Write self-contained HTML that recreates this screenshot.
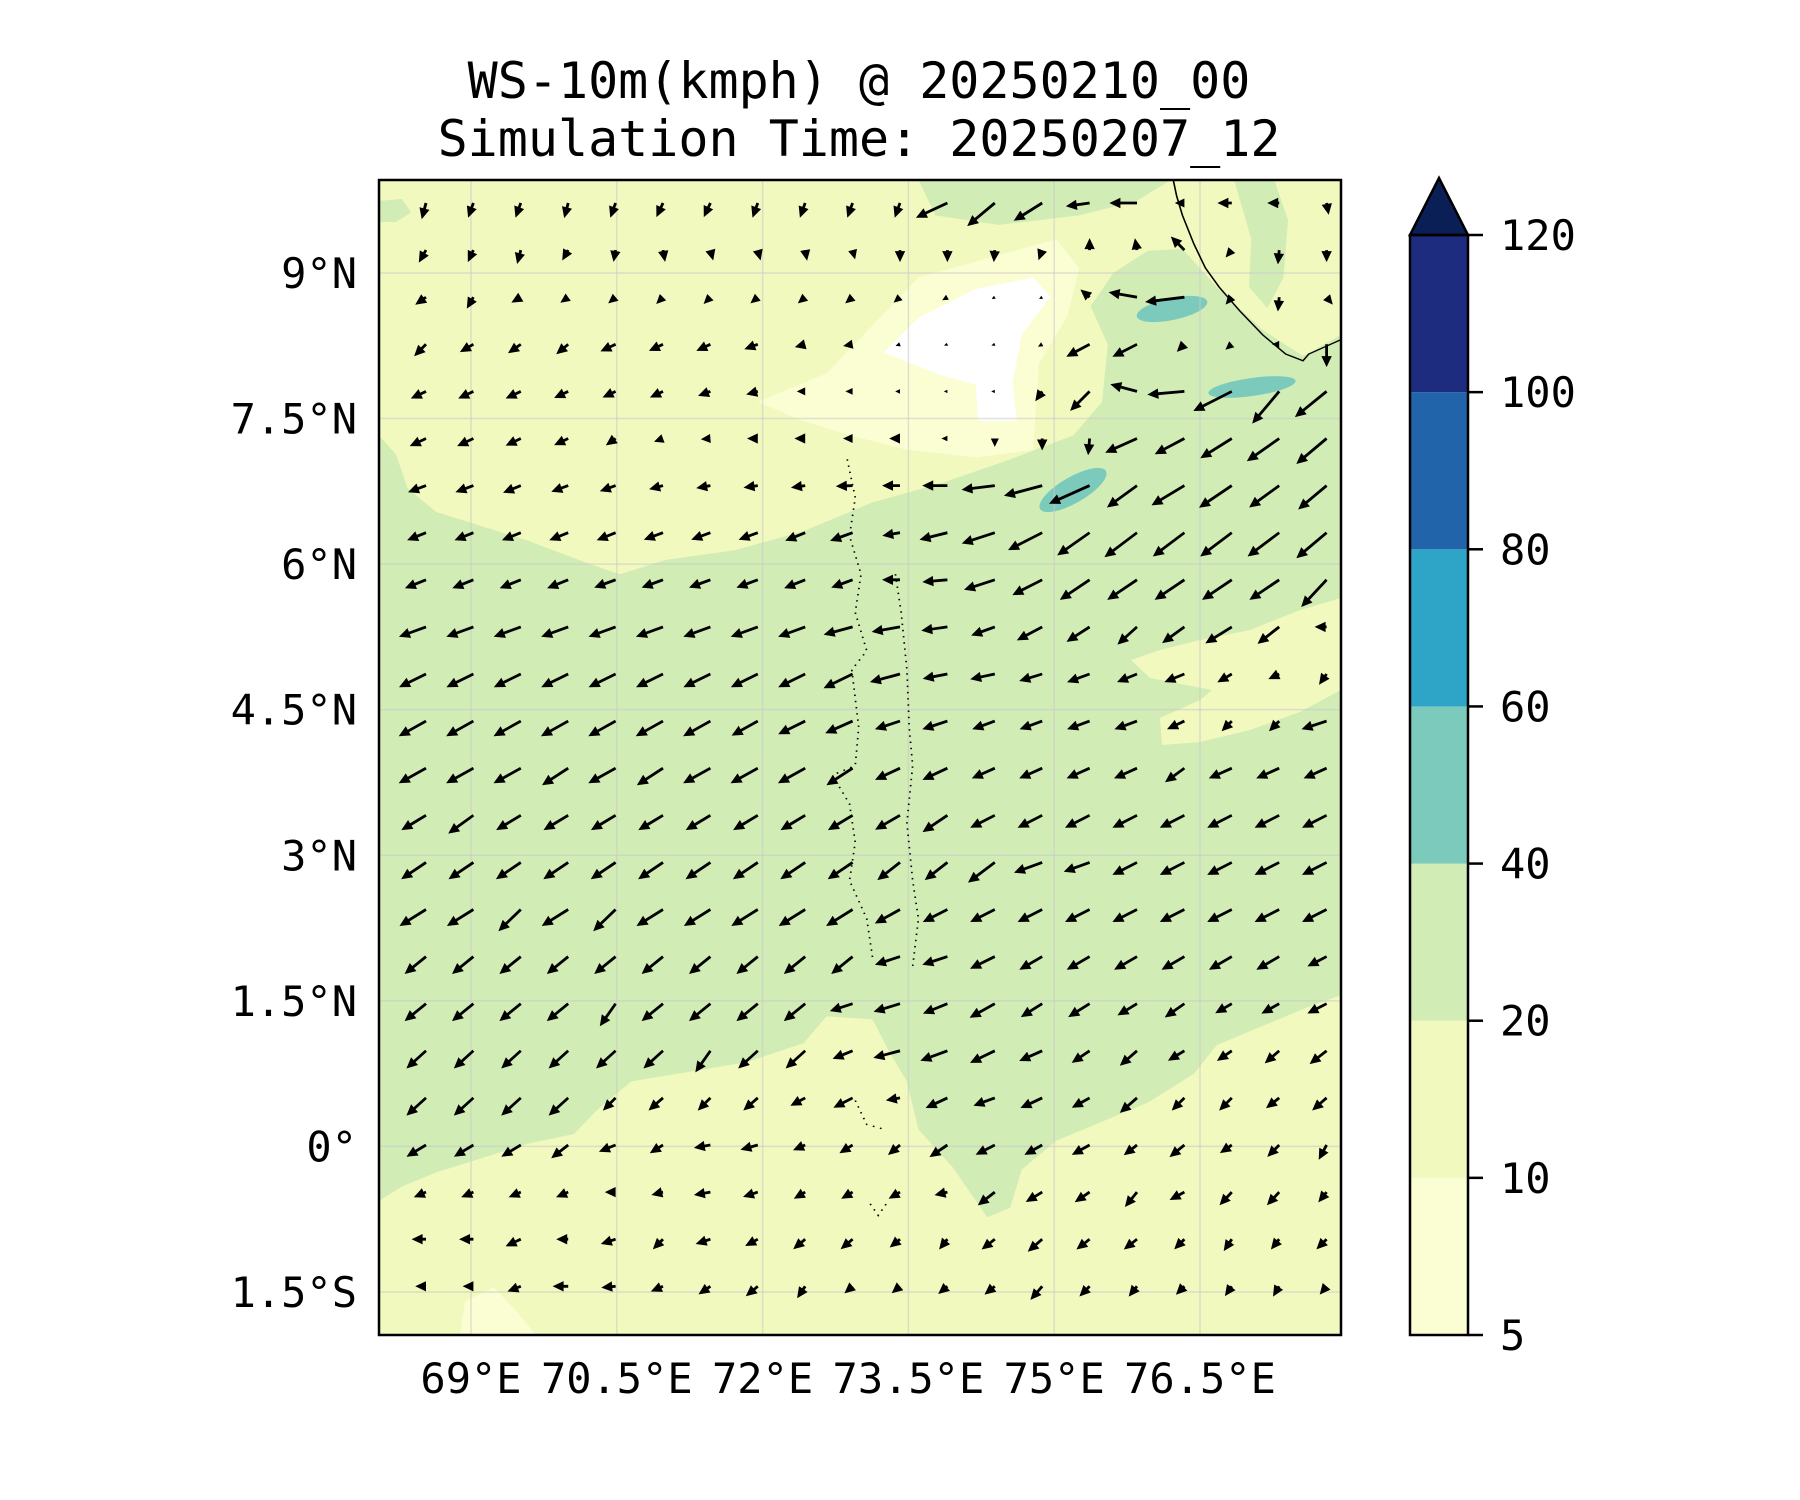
<!DOCTYPE html>
<html><head><meta charset="utf-8">
<style>
html,body{margin:0;padding:0;background:#fff;}
svg{display:block;}
text{font-family:"DejaVu Sans Mono","Liberation Mono",monospace;fill:#000;}
</style></head>
<body>
<svg id="chart" width="1800" height="1500" viewBox="0 0 1800 1500" xmlns="http://www.w3.org/2000/svg">
  <text x="859" y="98" font-size="50" text-anchor="middle">WS-10m(kmph) @ 20250210_00</text>
  <text x="859" y="156" font-size="50" text-anchor="middle">Simulation Time: 20250207_12</text>
  <defs><clipPath id="plotclip"><rect x="379" y="180" width="962" height="1155"/></clipPath></defs>
  <g clip-path="url(#plotclip)">
    <rect x="379" y="180" width="962" height="1155" fill="#d1ecb5"/>
    <g transform="scale(1.148,0.957)">
      <path fill="#f1f9be" d="M330,188 L800,188 L815,225 L870,235 L940,225 L990,210 L1020,188 L1168,188 L1168,350 L1135,372 L1100,345 L1060,300 L1030,260 L1000,262 L970,285 L950,320 L965,360 L960,420 L935,455 L880,480 L820,505 L760,525 L700,555 L640,575 L580,585 L540,600 L515,590 L460,565 L420,550 L380,535 L355,510 L345,475 L330,455 Z"/>
      <path fill="#d1ecb5" d="M1075,188 L1110,188 L1122,230 L1118,290 L1104,322 L1088,300 L1090,250 Z"/>
      <path fill="#d1ecb5" d="M330,210 L350,208 L358,222 L345,232 L330,232 Z"/>
      <path fill="#fbfdd3" d="M660,420 L720,390 L760,340 L800,290 L860,270 L920,250 L940,280 L930,330 L905,380 L900,470 L850,478 L790,470 L740,455 L700,440 Z"/>
      <path fill="#ffffff" d="M770,368 L800,332 L850,302 L900,290 L915,310 L890,350 L882,400 L886,440 L852,440 L850,402 L820,392 L790,378 Z"/>
      <path fill="#f1f9be" d="M330,1255 L350,1240 L380,1225 L420,1210 L460,1195 L500,1185 L520,1160 L550,1130 L600,1120 L650,1110 L700,1090 L720,1062 L760,1065 L775,1100 L790,1130 L800,1180 L830,1220 L860,1272 L880,1262 L890,1222 L920,1192 L960,1172 L1000,1152 L1040,1122 L1060,1092 L1100,1072 L1140,1052 L1168,1040 L1168,1400 L330,1400 Z"/>
      <path fill="#fbfdd3" d="M400,1400 L405,1360 L430,1345 L450,1370 L470,1400 Z"/>
    </g>
    <path fill="#f1f9be" d="M1131,660 L1160,650 L1200,640 L1250,630 L1300,610 L1341,598 L1341,690 L1300,712 L1250,730 L1200,742 L1162,745 L1160,718 L1200,700 L1212,690 L1150,678 Z"/>
    <ellipse cx="1172" cy="309" rx="36" ry="11" transform="rotate(-12 1172 309)" fill="#7ccabc"/>
    <ellipse cx="1252" cy="387" rx="44" ry="9" transform="rotate(-8 1252 387)" fill="#7ccabc"/>
    <ellipse cx="1073" cy="490" rx="38" ry="13" transform="rotate(-30 1073 490)" fill="#7ccabc"/>
    <g id="grid"></g>
    <g transform="scale(1.148,0.957)">
      <path fill="none" stroke="#000" stroke-width="1.4" d="M1022,188 L1025,205 L1030,225 L1040,255 L1050,280 L1062,300 L1080,325 L1100,350 L1120,370 L1135,377 L1140,370 L1168,355"/>
      <path fill="none" stroke="#000" stroke-width="1.5" stroke-dasharray="1.5 5" d="M738,480 L745,520 L740,560 L750,600 L745,640 L755,680 L742,700 L748,760 L745,800 L725,810 L740,840 L745,880 L740,920 L755,960 L760,1000 M780,600 L785,640 L790,700 L792,760 L795,800 L790,860 L795,920 L800,960 L795,1010 M745,1150 L755,1175 L770,1180 M758,1258 L765,1270 L772,1258"/>
    </g>
    <g id="arrows"></g>
  </g>
  <rect x="379" y="180" width="962" height="1155" fill="none" stroke="#000" stroke-width="2.5"/>
  <g id="yaxis"></g>
  <g id="xaxis"></g>
  <g id="colorbar"></g>
</svg>
<script>
// ---- data ----
const latTicks = [9, 7.5, 6, 4.5, 3, 1.5, 0, -1.5];
const latLabels = ["9°N","7.5°N","6°N","4.5°N","3°N","1.5°N","0°","1.5°S"];
const lonTicks = [69, 70.5, 72, 73.5, 75, 76.5];
const lonLabels = ["69°E","70.5°E","72°E","73.5°E","75°E","76.5°E"];
const cbLevels = [5, 10, 20, 40, 60, 80, 100, 120];
const cbColors = ["#fbfdd3","#f1f9be","#d1ecb5","#7ccabc","#2ea4c6","#2264a9","#1d2c7e"];
const cbExtendColor = "#0b1f57";
// wind direction (compass degrees the arrow points to), per row top->bottom
const dir0 = [195,200,200,195,200,205,205,200,200,200,200,245,230,238,262,270,270,270,270,170];
const dir1 = [210,205,195,210,190,170,165,165,170,165,180,180,185,200,0,350,315,220,185,180];
const dir2 = [235,210,240,235,230,225,225,230,230,230,230,240,240,240,310,280,263,220,185,140];
const dir3 = [225,240,235,230,245,245,245,250,255,260,250,250,250,240,242,243,225,230,270,180];
const dir4 = [245,245,245,245,245,245,250,255,270,270,270,270,270,215,225,285,265,243,220,231];
const dir5 = [245,245,245,245,235,250,265,270,270,270,270,270,180,180,185,246,242,238,235,230];
const dir6 = [250,250,248,250,250,255,260,262,262,268,270,270,263,255,246,234,239,236,234,230];
const dir7 = [248,248,248,248,248,250,250,250,248,250,260,256,252,243,235,233,233,233,233,230];
const dir8 = [248,248,248,248,250,250,250,250,248,250,270,265,252,243,236,236,236,236,236,223];
const dir9 = [250,250,250,250,250,250,250,250,250,255,260,262,250,242,237,228,234,238,232,270];
const dir10 = [244,244,244,244,244,244,244,244,244,244,255,259,258,253,250,248,248,240,245,215];
const dir11 = [241,241,241,241,241,241,241,241,244,246,252,252,250,250,250,250,245,225,225,252];
const dir12 = [241,241,241,237,241,237,241,241,241,237,245,245,246,246,246,246,234,246,246,246];
const dir13 = [239,234,239,239,239,239,239,239,239,239,240,236,243,243,243,243,243,243,243,243];
const dir14 = [236,236,236,236,236,236,236,236,236,236,232,232,233,250,250,243,243,243,243,243];
const dir15 = [238,238,226,238,226,238,238,238,238,238,241,243,243,243,243,243,243,243,243,243];
const dir16 = [231,231,231,231,231,231,231,231,231,231,252,252,244,240,240,240,240,240,240,243];
const dir17 = [231,231,231,231,215,231,231,231,231,252,253,248,241,238,238,239,235,240,241,243];
const dir18 = [228,228,228,228,228,228,215,228,228,248,255,250,244,246,236,229,239,236,229,232];
const dir19 = [228,228,228,228,225,229,225,229,242,243,260,245,250,245,241,229,225,225,232,229];
const dir20 = [239,239,239,232,248,238,260,255,247,238,230,236,243,241,241,232,231,236,225,208];
const dir21 = [247,247,247,247,270,256,260,252,240,240,240,257,232,239,236,219,242,223,223,219];
const dir22 = [270,270,245,270,252,225,252,242,230,230,231,219,232,229,232,232,225,214,219,225];
const dir23 = [270,270,249,270,265,247,236,230,214,229,230,230,231,221,225,219,225,215,211,220];
// wind speed (km/h) per row
const spd0 = [14,13,13,13,13,13,13,13,13,13,13,29,30,28,20,23,8,12,10,10];
const spd1 = [12,11,12,10,10,10,9,9,9,8,10,10,10,9,10,10,16,8,12,10];
const spd2 = [11,11,9,8,8,8,8,8,8,8,7,5,3,3,10,24,33,8,12,8];
const spd3 = [14,13,13,13,14,13,13,12,9,8,4,3,3,4,22,23,9,7,6,19];
const spd4 = [14,14,14,13,12,12,11,10,7,6,4,3,3,10,23,23,31,36,35,34];
const spd5 = [15,15,14,13,10,8,8,9,9,8,9,5,7,10,14,29,28,31,33,33];
const spd6 = [16,16,16,15,14,12,12,12,12,14,15,21,28,33,37,31,32,33,31,31];
const spd7 = [17,17,17,17,17,17,17,17,18,20,15,24,29,32,33,34,33,33,33,33];
const spd8 = [19,19,19,19,19,19,19,19,19,19,15,21,27,28,30,30,30,30,30,31];
const spd9 = [24,24,24,24,24,24,24,24,24,25,24,22,21,24,23,22,23,26,23,10];
const spd10 = [25,25,25,25,25,25,25,25,25,27,26,21,21,20,20,18,18,14,10,11];
const spd11 = [26,26,26,26,26,26,26,25,25,25,22,22,20,20,20,20,16,12,12,22];
const spd12 = [26,26,26,26,26,26,26,26,26,26,23,23,21,21,21,21,20,21,21,21];
const spd13 = [24,26,24,24,24,24,24,24,24,24,24,25,23,23,23,23,23,23,23,23];
const spd14 = [25,25,25,25,25,25,25,25,25,25,24,24,28,25,23,23,23,23,23,23];
const spd15 = [26,26,26,26,26,26,26,26,26,26,24,23,23,23,23,23,23,23,23,23];
const spd16 = [23,23,23,23,23,23,23,23,23,23,22,22,23,22,22,22,22,22,22,18];
const spd17 = [23,23,23,23,23,23,23,23,23,20,23,22,24,21,21,19,20,16,17,18];
const spd18 = [22,22,22,22,22,22,22,22,22,18,23,24,23,21,18,19,16,15,16,18];
const spd19 = [22,22,22,22,15,16,15,16,14,18,12,20,19,20,17,19,15,15,14,16];
const spd20 = [19,19,19,18,15,13,14,15,11,13,13,18,18,17,17,14,16,12,14,14];
const spd21 = [11,11,11,11,9,10,14,13,11,11,11,11,18,16,15,16,14,15,15,11];
const spd22 = [12,12,14,10,13,12,13,12,13,13,11,11,14,16,14,14,12,12,11,12];
const spd23 = [9,9,12,13,12,11,12,13,12,9,9,10,11,15,12,11,10,10,10,9];
const dirRows = [dir0,dir1,dir2,dir3,dir4,dir5,dir6,dir7,dir8,dir9,dir10,dir11,dir12,dir13,dir14,dir15,dir16,dir17,dir18,dir19,dir20,dir21,dir22,dir23];
const spdRows = [spd0,spd1,spd2,spd3,spd4,spd5,spd6,spd7,spd8,spd9,spd10,spd11,spd12,spd13,spd14,spd15,spd16,spd17,spd18,spd19,spd20,spd21,spd22,spd23];

// ---- axis functions ----
const NS = "http://www.w3.org/2000/svg";
const latY = lat => 1146.4 - lat * 97.05;
const lonX = lon => 471 + (lon - 69) * 97.2;
const colX = i => 426 + 47.4 * i;
const rowY = j => 203 + 47.1 * j;
const arrowScale = 1.2; // px per km/h
const cbTop = 235, cbBot = 1335, cbL = 1410, cbR = 1468;
const cbY = k => cbBot - (cbBot - cbTop) * k / (cbLevels.length - 1);

function mk(tag, attrs, parent) {
  const e = document.createElementNS(NS, tag);
  for (const k in attrs) e.setAttribute(k, attrs[k]);
  parent.appendChild(e);
  return e;
}

// gridlines
const grid = document.getElementById('grid');
latTicks.forEach(lat => {
  const l = mk('line', {x1: 379, x2: 1341, y1: latY(lat), y2: latY(lat), stroke: '#c8c8c8', 'stroke-opacity': 0.55, 'stroke-width': 1.5}, grid);
  
  
});
lonTicks.forEach(lon => {
  const l = mk('line', {x1: lonX(lon), x2: lonX(lon), y1: 180, y2: 1335, stroke: '#c8c8c8', 'stroke-opacity': 0.55, 'stroke-width': 1.5}, grid);
  
  
});

// y axis labels
const yax = document.getElementById('yaxis');
latTicks.forEach((lat, i) => {
  const t = mk('text', {x: 357, y: latY(lat) + 15, 'font-size': 42, 'text-anchor': 'end'}, yax);
  t.textContent = latLabels[i];
  
  
});
// x axis labels
const xax = document.getElementById('xaxis');
lonTicks.forEach((lon, i) => {
  const t = mk('text', {x: lonX(lon), y: 1393, 'font-size': 42, 'text-anchor': 'middle'}, xax);
  t.textContent = lonLabels[i];
  
  
});

// arrows
const ag = document.getElementById('arrows');
dirRows.forEach((row, j) => {
  row.forEach((d, i) => {
    const L = spdRows[j][i] * arrowScale;
    const x0 = colX(i), y0 = rowY(j);
    const a = d * Math.PI / 180;
    const ux = Math.sin(a), uy = -Math.cos(a);
    const px = -uy, py = ux;
    let hl = 11, hw = 5.2, sw = 1.4;
    if (L < hl) { const f = L / hl; hl = L; hw *= f; sw *= f; }
    const sl = L - hl;
    const pts = [
      [0, sw], [sl, sw], [sl, hw], [L, 0], [sl, -hw], [sl, -sw], [0, -sw]
    ].map(p => (x0 + ux * p[0] + px * p[1]).toFixed(1) + ',' + (y0 + uy * p[0] + py * p[1]).toFixed(1)).join(' ');
    const p = mk('polygon', {points: pts, fill: '#000'}, ag);
    
    
  });
});

// colorbar
const cb = document.getElementById('colorbar');
cbColors.forEach((c, k) => {
  const r = mk('rect', {x: cbL, y: cbY(k + 1), width: cbR - cbL, height: cbY(k) - cbY(k + 1), fill: c}, cb);
  
  
});
const tri = mk('polygon', {points: `${cbL},${cbTop} ${(cbL + cbR) / 2},${cbTop - 57} ${cbR},${cbTop}`, fill: cbExtendColor, stroke: '#000', 'stroke-width': 2.5, 'stroke-linejoin': 'miter'}, cb);


const frame = mk('rect', {x: cbL, y: cbTop, width: cbR - cbL, height: cbBot - cbTop, fill: 'none', stroke: '#000', 'stroke-width': 2.5}, cb);


cbLevels.forEach((v, k) => {
  const y = cbY(k);
  const tk = mk('line', {x1: cbR, x2: cbR + 15, y1: y, y2: y, stroke: '#000', 'stroke-width': 2.5}, cb);
  
  
  const t = mk('text', {x: 1500, y: y + 15, 'font-size': 42}, cb);
  t.textContent = String(v);
  
  
});
</script>
</body></html>
